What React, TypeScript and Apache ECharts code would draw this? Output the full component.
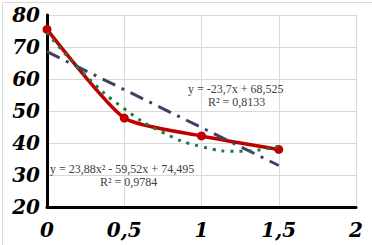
import React, { useEffect, useRef } from "react";
import * as echarts from "echarts";

const measured: [number, number][] = [
  [0, 75.5],
  [0.5, 47.8],
  [1, 42.2],
  [1.5, 38.0],
];
const linearTrend: [number, number][] = [
  [0, 68.525],
  [1.5, 32.975],
];
const polyTrend: [number, number][] = [
  [0, 74.5],
  [0.25, 61.11],
  [0.5, 50.71],
  [0.75, 43.29],
  [1.0, 38.86],
  [1.25, 37.41],
  [1.5, 38.95],
];
const linearLabel = ["y = -23,7x + 68,525", "R² = 0,8133"];
const polyLabel = ["y = 23,88x² - 59,52x + 74,495", "R² = 0,9784"];

const SERIF = "Liberation Serif";
const AXIS_FONT = "DejaVu Serif";

export default function App() {
  const ref = useRef<HTMLDivElement>(null);
  useEffect(() => {
    const chart = echarts.init(ref.current!, null, { renderer: "svg" });
    const txt = (x: number, y: number, s: string) => ({
      type: "text",
      left: x,
      top: y,
      style: {
        text: s,
        fontFamily: SERIF,
        fontSize: 12,
        fill: "#404040",
      },
      z: 10,
    });
    const labelStyle = {
      fontFamily: AXIS_FONT,
      fontSize: 20,
      fontWeight: "bold",
      fontStyle: "italic",
      color: "#000",
    };
    chart.setOption({
      animation: false,
      backgroundColor: "#fff",
      grid: { left: 47, right: 16, top: 15, bottom: 38 },
      xAxis: {
        type: "value",
        min: 0,
        max: 2,
        interval: 0.5,
        axisLine: { show: true, onZero: false, lineStyle: { color: "#000", width: 3 } },
        axisTick: { show: false },
        splitLine: { show: true, lineStyle: { color: "#d9d9d9", width: 1 } },
        axisLabel: {
          ...labelStyle,
          margin: 13,
          formatter: (v: number) => String(v).replace(".", ","),
        },
      },
      yAxis: {
        type: "value",
        min: 20,
        max: 80,
        interval: 10,
        axisLine: { show: true, lineStyle: { color: "#000", width: 3 } },
        axisTick: { show: false },
        splitLine: { show: true, lineStyle: { color: "#d9d9d9", width: 1 } },
        axisLabel: { ...labelStyle, margin: 7 },
      },
      series: [
        {
          type: "line",
          data: measured,
          smooth: 0.2,
          symbol: "circle",
          symbolSize: 9,
          itemStyle: { color: "#C00000" },
          lineStyle: { color: "#C00000", width: 3.5 },
          z: 2,
        },
        {
          type: "line",
          data: linearTrend,
          symbol: "none",
          lineStyle: { color: "#3E4260", width: 3, type: [14, 7, 3, 7] },
          z: 3,
        },
        {
          type: "line",
          data: polyTrend,
          smooth: true,
          symbol: "none",
          lineStyle: { color: "#1B7A3E", width: 3, type: [3, 6] },
          z: 3,
        },
      ],
      graphic: [
        {
          type: "rect",
          left: 0,
          top: 0,
          shape: { x: 0.5, y: 0.5, width: 371, height: 244 },
          style: { fill: "none", stroke: "#d9d9d9", lineWidth: 1 },
          silent: true,
        },
        txt(188, 83, linearLabel[0]),
        txt(208, 96, linearLabel[1]),
        txt(50, 163, polyLabel[0]),
        txt(100, 176, polyLabel[1]),
      ],
    });
    return () => chart.dispose();
  }, []);
  return (
    <div
      ref={ref}
      style={{ position: "fixed", left: 0, top: 0, width: 372, height: 245 }}
    />
  );
}
